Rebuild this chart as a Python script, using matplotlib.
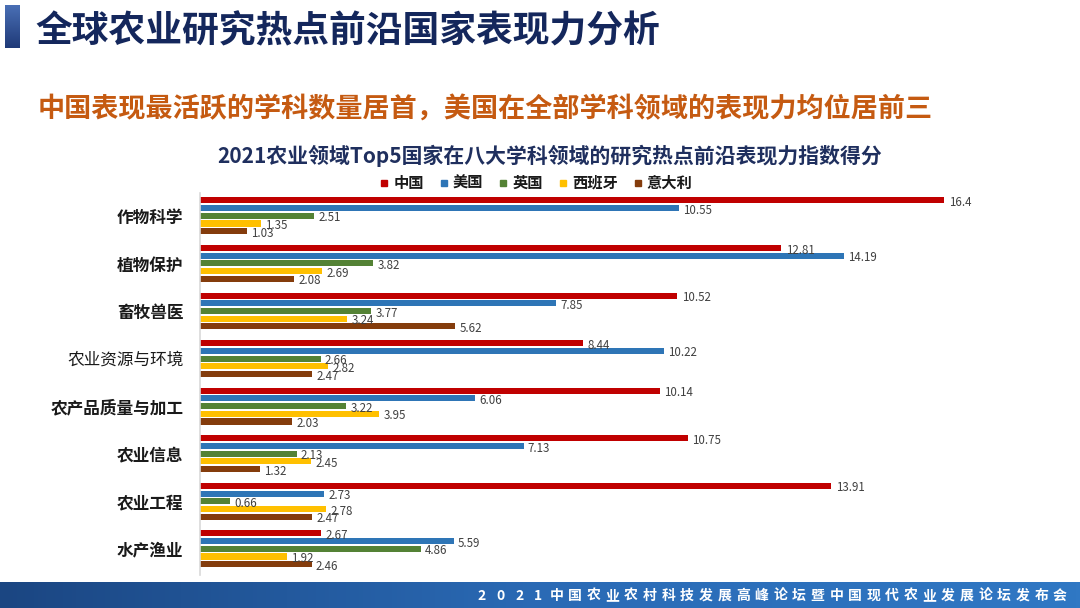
import numpy as np
import matplotlib.pyplot as plt
from matplotlib.lines import Line2D
from matplotlib.colors import LinearSegmentedColormap

plt.rcParams['font.family'] = ['Noto Sans CJK SC', 'DejaVu Sans']

# ---- data ----
categories = ['作物科学', '植物保护', '畜牧兽医', '农业资源与环境',
              '农产品质量与加工', '农业信息', '农业工程', '水产渔业']
countries = ['中国', '美国', '英国', '西班牙', '意大利']
china = [16.4, 12.81, 10.52, 8.44, 10.14, 10.75, 13.91, 2.67]
usa = [10.55, 14.19, 7.85, 10.22, 6.06, 7.13, 2.73, 5.59]
uk = [2.51, 3.82, 3.77, 2.66, 3.22, 2.13, 0.66, 4.86]
spain = [1.35, 2.69, 3.24, 2.82, 3.95, 2.45, 2.78, 1.92]
italy = [1.03, 2.08, 5.62, 2.47, 2.03, 1.32, 2.47, 2.46]
series = [china, usa, uk, spain, italy]
colors = ['#c00000', '#2e75b6', '#548235', '#ffc000', '#843c0c']
label_weights = ['bold', 'bold', 'bold', 'normal', 'bold', 'bold', 'bold', 'bold']

title = '全球农业研究热点前沿国家表现力分析'
subtitle = '中国表现最活跃的学科数量居首，美国在全部学科领域的表现力均位居前三'
chart_title = '2021农业领域Top5国家在八大学科领域的研究热点前沿表现力指数得分'
footer = '2021中国农业农村科技发展高峰论坛暨中国现代农业发展论坛发布会'

W, H = 1080, 608
fig = plt.figure(figsize=(W / 100, H / 100), dpi=100)
fig.patch.set_facecolor('white')

# ---- header ----
ax_bar = fig.add_axes([5 / W, 1 - 48 / H, 15 / W, 43 / H])
grad = np.linspace(0, 1, 64).reshape(-1, 1)
ax_bar.imshow(grad, aspect='auto', extent=[0, 1, 0, 1],
              cmap=LinearSegmentedColormap.from_list('b', ['#4a6fb5', '#1f3a78']))
ax_bar.axis('off')

fig.text(35 / W, 1 - 32 / H, title, fontsize=26.5, fontweight='heavy',
         color='#14275c', va='center', ha='left')
fig.text(38 / W, 1 - 110 / H, subtitle, fontsize=19.5, fontweight='bold',
         color='#c55a11', va='center', ha='left')
fig.text(550 / W, 1 - 156 / H, chart_title, fontsize=15, fontweight='bold',
         color='#1f2f5e', va='center', ha='center')

# ---- chart ----
ax = fig.add_axes([200 / W, 1 - 575 / H, 817 / W, 382 / H])
y = np.arange(len(categories))
pitch = 0.162
bar_h = 0.128
for j, (vals, c, name) in enumerate(zip(series, colors, countries)):
    pos = y + (j - 2) * pitch
    bars = ax.barh(pos, vals, height=bar_h, color=c, label=name)
    for b, v in zip(bars, vals):
        ax.annotate(f'{v:g}', (b.get_width(), b.get_y() + b.get_height() / 2),
                    xytext=(3, -1.5), textcoords='offset points',
                    va='center', ha='left', fontsize=8.3, color='#404040')

ax.set_xlim(0, 18)
ax.set_ylim(7.55, -0.48)
ax.set_yticks(y)
ax.set_yticklabels(categories, fontsize=12, color='#1a1a1a')
for t, w in zip(ax.get_yticklabels(), label_weights):
    t.set_fontweight(w)
ax.tick_params(axis='y', length=0, pad=12)
ax.set_xticks([])
for s in ['top', 'right', 'bottom']:
    ax.spines[s].set_visible(False)
ax.spines['left'].set_color('#d9d9d9')
ax.spines['left'].set_linewidth(1.2)

handles = [Line2D([], [], ls='none', marker='s', markersize=4.5, color=c) for c in colors]
leg = fig.legend(handles, countries, loc='center', bbox_to_anchor=(536 / W, 1 - 183 / H),
                 ncol=5, frameon=False, handlelength=0.6, handletextpad=0.3,
                 columnspacing=1.0, prop={'size': 11, 'weight': 'bold'})
for t in leg.get_texts():
    t.set_color('#1a1a1a')

# ---- footer banner ----
ax_ft = fig.add_axes([0, 0, 1, 26 / H])
grad_h = np.linspace(0, 1, 256).reshape(1, -1)
ax_ft.imshow(grad_h, aspect='auto', extent=[0, 1, 0, 1],
             cmap=LinearSegmentedColormap.from_list('f', ['#1b4682', '#2a6ab5', '#3078c4']))
ax_ft.axis('off')
x0, x1 = 482, 1060
step = (x1 - x0) / (len(footer) - 1)
for i, ch in enumerate(footer):
    fig.text((x0 + i * step) / W, 12 / H, ch, fontsize=10, fontweight='bold',
             style='italic', color='white', ha='center', va='center')

fig.savefig('out.png', dpi=100)
